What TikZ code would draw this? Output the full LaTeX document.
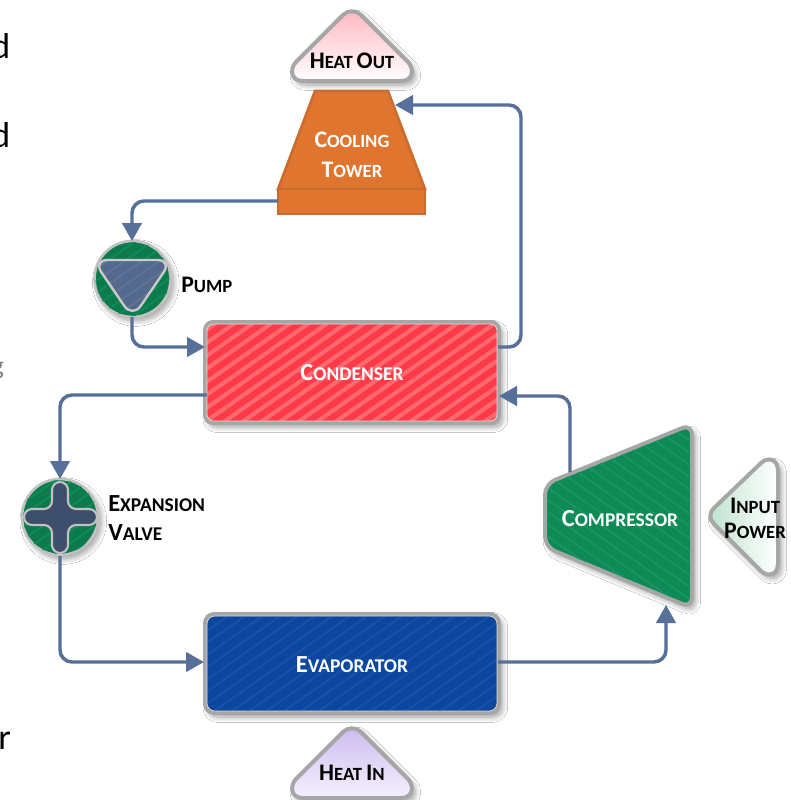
\documentclass[tikz,border=0pt]{standalone}
\usepackage{fontspec}
\setmainfont{Carlito}
\usetikzlibrary{arrows.meta,patterns.meta,shadows.blur,calc}
\definecolor{conn}{HTML}{56709A}
\definecolor{rimc}{HTML}{A6A6A6}
\definecolor{rimi}{HTML}{DADADA}
\definecolor{orng}{HTML}{E07530}
\definecolor{orngd}{HTML}{C96C2E}
\definecolor{redf}{HTML}{FF3A48}
\definecolor{redh}{HTML}{FF6A70}
\definecolor{bluef}{HTML}{0B469F}
\definecolor{blueh}{HTML}{1A52A8}
\definecolor{grnf}{HTML}{0E8A56}
\definecolor{grnh}{HTML}{1A9562}
\definecolor{grnd}{HTML}{0C7A4C}
\definecolor{slate}{HTML}{55698C}
\definecolor{slateh}{HTML}{617598}
\definecolor{slated}{HTML}{3E4F6E}
\definecolor{pinkt}{HTML}{FFB8C2}
\definecolor{violt}{HTML}{CBBBF0}
\definecolor{violb}{HTML}{F5F1FF}
\definecolor{mintl}{HTML}{BFE3D0}
\newcommand{\capsm}[2]{{\fontsize{17.8}{18}\selectfont\bfseries #1{\fontsize{14}{18}\selectfont #2}}}
\newcommand{\capsx}[2]{{\fontsize{18.4}{18}\selectfont\bfseries #1{\fontsize{14.6}{18}\selectfont #2}}}
\newcommand{\gapw}{\hspace{3pt}}
\newcommand{\housepath}{(343,15) .. controls (348,10) and (356,10) .. (361,15) -- (408,62) .. controls (414,68) and (414,81) .. (401,81) -- (303,81) .. controls (290,81) and (290,68) .. (296,62) -- cycle}
\tikzset{
  x=0.75pt,y=-0.75pt,
  pipe/.style={draw=conn,line width=2.6pt,rounded corners=9pt,-{Triangle[length=13.5pt,width=14.5pt]}},
  rim/.style={draw=rimc,line width=3pt,line join=round},
  softshadow/.style={blur shadow={shadow xshift=2.5pt,shadow yshift=-3pt,shadow blur steps=10,shadow blur radius=4pt,shadow opacity=38}},
  txt/.style={inner sep=0pt,align=center,text=black},
  wtxt/.style={inner sep=0pt,align=center,text=white},
  edgech/.style={inner sep=0pt,anchor=base west,font=\fontsize{27}{27}\selectfont}
}
\begin{document}
\begin{tikzpicture}
\useasboundingbox (0,0) rectangle (790,800);
\clip (0,0) rectangle (790,800);
\fill[white] (0,0) rectangle (790,800);

% clipped neighbouring text
\node[edgech,text=black] (sa) at (-9,58) {d};
\node[edgech,text=black] (sb) at (-9,147) {d};
\node[edgech,text=gray] (sc) at (-9,374) {\fontsize{20}{20}\selectfont g};
\node[edgech,text=black] (sd) at (-2,749) {r};

% named anchors for shapes
\coordinate (twrR) at (395,105);
\coordinate (twrL) at (278,201);
\coordinate (pmpT) at (132,241);
\coordinate (pmpB) at (132,317);
\coordinate (cndLa) at (205,347);
\coordinate (cndLb) at (207,395);
\coordinate (cndRa) at (498,347);
\coordinate (cndRb) at (499,396);
\coordinate (vlvT) at (60,479);
\coordinate (vlvB) at (60,556);
\coordinate (evpL) at (204,662);
\coordinate (evpR) at (498,662);
\coordinate (cmpT) at (570,472);
\coordinate (cmpB) at (666,605);

% Heat Out
\path[rim,softshadow,top color=pinkt,bottom color=white] \housepath;
\node[txt] (heatout) at (352,61) {\capsm{H}{EAT}\gapw\capsm{O}{UT}};

% Cooling tower
\path[fill=orng,draw=orngd,line width=1.9pt,line join=miter] (315,91) -- (388,91) -- (425,189) -- (278,189) -- cycle;
\path[fill=orng,draw=orngd,line width=1.9pt] (278,189) rectangle (425,214);
\node[wtxt] (tower) at (352,155) {\capsm{C}{OOLING}\\[10.5pt]\capsm{T}{OWER}};

% Condenser
\path[rim,softshadow,fill=redf,rounded corners=6pt] (205,322) rectangle (499,423);
\begin{scope}
\clip[rounded corners=5pt] (207,324) rectangle (497,421);
\fill[pattern={Lines[angle=35,distance=8pt,line width=3pt]},pattern color=redh] (205,322) rectangle (499,423);
\end{scope}
\draw[rimi,line width=.6pt,rounded corners=5pt] (207,324) rectangle (497,421);
\node[wtxt] (condenser) at (352,373) {\capsx{C}{ONDENSER}};

% Evaporator
\path[rim,softshadow,fill=bluef,rounded corners=7pt] (205,614) rectangle (499,713);
\begin{scope}
\clip[rounded corners=6pt] (207,616) rectangle (497,711);
\fill[pattern={Lines[angle=35,distance=7.5pt,line width=1.4pt]},pattern color=blueh] (205,614) rectangle (499,713);
\end{scope}
\draw[rimi,line width=.5pt,rounded corners=6pt] (207,616) rectangle (497,711);
\node[wtxt] (evaporator) at (352,665) {\capsx{E}{VAPORATOR}};

% Heat In
\path[rim,softshadow,shift={(0,717)},top color=violt,bottom color=violb] \housepath;
\node[txt] (heatin) at (352,773) {\capsm{H}{EAT}\gapw\capsm{I}{N}};

% Compressor
\path[rim,softshadow,fill=grnf,rounded corners=8pt] (545,484) -- (692,424) -- (692,608) -- (545,547) -- cycle;
\begin{scope}
\clip[rounded corners=7pt] (547,485) -- (690,427) -- (690,605) -- (547,546) -- cycle;
\fill[pattern={Lines[angle=-35,distance=7.5pt,line width=1.4pt]},pattern color=grnh] (545,424) rectangle (692,608);
\end{scope}
\node[wtxt] (compressor) at (620,519) {\capsx{C}{OMPRESSOR}};

% Input Power
\path[rim,softshadow,left color=mintl,right color=white]
  (714,508) .. controls (709,513) and (709,519) .. (714,524) -- (761,571) .. controls (767,577) and (778,576) .. (778,563) -- (778,471) .. controls (778,458) and (767,457) .. (761,463) -- cycle;
\node[txt] (inputpower) at (755,518) {\capsm{I}{NPUT}\\[6.75pt]\capsm{P}{OWER}};

% Pump
\path[draw=rimc!70!white,line width=2pt,softshadow,fill=grnd] (132.5,279) circle (38);
\begin{scope}
\clip (132.5,279) circle (37);
\fill[pattern={Lines[angle=35,distance=7.5pt,line width=1.6pt]},pattern color=grnf] (90,238) rectangle (175,320);
\end{scope}
\path[fill=slate,rounded corners=11pt] (93,260) -- (172,260) -- (132.5,318) -- cycle;
\begin{scope}
\clip[rounded corners=11pt] (93,260) -- (172,260) -- (132.5,318) -- cycle;
\fill[pattern={Lines[angle=35,distance=7.5pt,line width=1.2pt]},pattern color=slateh] (90,255) rectangle (175,325);
\end{scope}
\draw[rimc!60!white,line width=1.8pt,rounded corners=11pt,line join=round] (93,260) -- (172,260) -- (132.5,318) -- cycle;
\node[txt,anchor=west] (pump) at (181,285) {\capsm{P}{UMP}};

% Expansion valve
\path[draw=rimc!70!white,line width=2pt,softshadow,fill=grnd] (60,517) circle (38);
\begin{scope}
\clip (60,517) circle (37);
\fill[pattern={Lines[angle=35,distance=7.5pt,line width=1.6pt]},pattern color=grnf] (20,476) rectangle (100,558);
\end{scope}
\path[draw=rimc!70!white,line width=1.6pt,fill=slated,rounded corners=6pt,line join=round]
  (52,482) -- (68,482) -- (68,509) -- (97,509) -- (97,525) -- (68,525) -- (68,553) -- (52,553) -- (52,525) -- (24,525) -- (24,509) -- (52,509) -- cycle;
\node[txt,anchor=west,align=left] (valve) at (108,518) {\capsx{E}{XPANSION}\\[9pt]\capsx{V}{ALVE}};

% Connectors
\draw[pipe] (cndRa) -- (521,347) -- (521,105) -- (twrR);
\draw[pipe] (twrL) -- (132,201) -- (pmpT);
\draw[pipe] (pmpB) -- (132,347) -- (cndLa);
\draw[pipe] (cndLb) -- (60,395) -- (vlvT);
\draw[pipe] (vlvB) -- (60,662) -- (evpL);
\draw[pipe] (evpR) -- (666,662) -- (cmpB);
\draw[pipe] (cmpT) -- (570,396) -- (cndRb);
\end{tikzpicture}
\end{document}
